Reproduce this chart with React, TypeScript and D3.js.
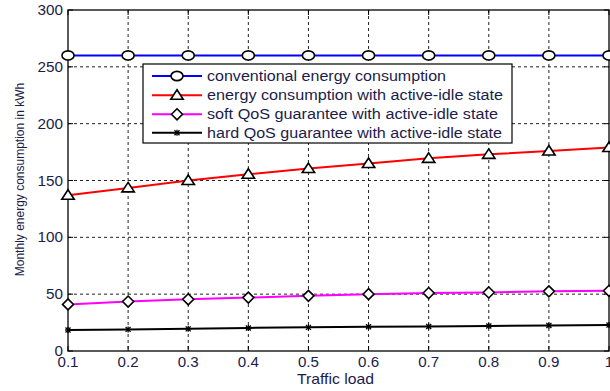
import React from "react";
import * as d3 from "d3";

const trafficLoad = [0.1, 0.2, 0.3, 0.4, 0.5, 0.6, 0.7, 0.8, 0.9, 1.0];
const conventional = [260, 260, 260, 260, 260, 260, 260, 260, 260, 260];
const activeIdle = [137, 143.5, 150, 155.5, 160.5, 165, 169.5, 173, 176, 179];
const softQoS = [41, 43.5, 45.5, 47, 48.5, 50, 51, 51.5, 52.5, 53];
const hardQoS = [18.5, 19, 19.5, 20.3, 20.8, 21.3, 21.6, 22, 22.4, 22.8];
const xTicks = [0.1, 0.2, 0.3, 0.4, 0.5, 0.6, 0.7, 0.8, 0.9, 1];
const yTicks = [0, 50, 100, 150, 200, 250, 300];
const seriesNames = [
  "conventional energy consumption",
  "energy consumption with active-idle state",
  "soft QoS guarantee with active-idle state",
  "hard QoS guarantee with active-idle state",
];
const seriesColors = ["#0000ff", "#ff0000", "#ff00ff", "#000000"];
const seriesMarkers = ["circle", "triangle", "diamond", "star"];

const W = 610, H = 391;
const L = 68, R = 609, T = 10, B = 351;
const FONT = "'Liberation Sans', Arial, sans-serif";
const TXT = "#1c1c4a";

function labelWidth(s: string) {
  let w = 0;
  for (const c of s) w += c === "." ? 4 : 8.5;
  return w;
}

function Marker({ kind, x, y }: { kind: string; x: number; y: number }) {
  if (kind === "circle")
    return <ellipse cx={x} cy={y} rx={6} ry={4.6} fill="#fff" stroke="#000" strokeWidth={1.6} />;
  if (kind === "triangle")
    return (
      <path
        d={`M${x},${y - 5.5} L${x + 6.2},${y + 4} L${x - 6.2},${y + 4} Z`}
        fill="#fff"
        stroke="#000"
        strokeWidth={1.6}
      />
    );
  if (kind === "diamond")
    return (
      <path
        d={`M${x},${y - 5.5} L${x + 5.5},${y} L${x},${y + 5.5} L${x - 5.5},${y} Z`}
        fill="#fff"
        stroke="#000"
        strokeWidth={1.6}
      />
    );
  return (
    <g stroke="#000" strokeWidth={1.3}>
      <line x1={x - 2.5} y1={y - 2.5} x2={x + 2.5} y2={y + 2.5} />
      <line x1={x - 2.5} y1={y + 2.5} x2={x + 2.5} y2={y - 2.5} />
      <line x1={x} y1={y - 3} x2={x} y2={y + 3} />
      <line x1={x - 3} y1={y} x2={x + 3} y2={y} />
    </g>
  );
}

export default function App() {
  const x = d3.scaleLinear().domain([0.1, 1]).range([L, R]);
  const y = d3.scaleLinear().domain([0, 300]).range([B, T]);
  const allSeries = [conventional, activeIdle, softQoS, hardQoS];
  const line = d3
    .line<number>()
    .x((_, i) => x(trafficLoad[i]))
    .y((d) => y(d));

  const legX = 143, legY = 64, legW = 369, legH = 79;
  const rowY = [76, 95.3, 114.3, 132.7];
  const legWidths = [239, 296, 291, 295];

  return (
    <svg
      width={W}
      height={H}
      style={{ position: "absolute", left: 0, top: 0, background: "#fff" }}
      fontFamily={FONT}
    >
      <rect x={0} y={0} width={W} height={H} fill="#fff" />
      {/* grid */}
      <g stroke="#222" strokeWidth={1} strokeDasharray="3,3">
        {xTicks.slice(1, -1).map((t) => (
          <line key={"gx" + t} x1={x(t)} x2={x(t)} y1={T} y2={B} />
        ))}
        {yTicks.slice(1, -1).map((t) => (
          <line key={"gy" + t} x1={L} x2={R} y1={y(t)} y2={y(t)} />
        ))}
      </g>
      {/* ticks */}
      <g stroke="#000" strokeWidth={1}>
        {xTicks.map((t) => (
          <g key={"tx" + t}>
            <line x1={x(t)} x2={x(t)} y1={B} y2={B - 5} />
            <line x1={x(t)} x2={x(t)} y1={T} y2={T + 5} />
          </g>
        ))}
        {yTicks.map((t) => (
          <g key={"ty" + t}>
            <line x1={L} x2={L + 5} y1={y(t)} y2={y(t)} />
            <line x1={R} x2={R - 5} y1={y(t)} y2={y(t)} />
          </g>
        ))}
      </g>
      {/* box */}
      <rect x={L} y={T} width={R - L} height={B - T} fill="none" stroke="#000" strokeWidth={1.3} />
      {/* tick labels */}
      <g fill={TXT} fontSize={14}>
        {xTicks.map((t) => (
          <text
            key={"lx" + t}
            x={x(t)}
            y={B + 16}
            textAnchor="middle"
            textLength={labelWidth(String(t))}
            lengthAdjust="spacingAndGlyphs"
          >
            {String(t)}
          </text>
        ))}
        {yTicks.map((t) => (
          <text
            key={"ly" + t}
            x={L - 5}
            y={y(t) + 5}
            textAnchor="end"
            textLength={labelWidth(String(t))}
            lengthAdjust="spacingAndGlyphs"
          >
            {String(t)}
          </text>
        ))}
      </g>
      <text
        x={335.5}
        y={384}
        textAnchor="middle"
        fontSize={14.5}
        fill={TXT}
        textLength={77}
        lengthAdjust="spacingAndGlyphs"
      >
        Traffic load
      </text>
      <text
        transform={`translate(24,${(T + B) / 2 - 1}) rotate(-90)`}
        textAnchor="middle"
        fontSize={12}
        fill={TXT}
      >
        Monthly energy consumption in kWh
      </text>
      {/* series */}
      {allSeries.map((s, si) => (
        <g key={"s" + si}>
          <path d={line(s) || ""} fill="none" stroke={seriesColors[si]} strokeWidth={2} />
          {s.map((v, i) => (
            <Marker key={i} kind={seriesMarkers[si]} x={x(trafficLoad[i])} y={y(v)} />
          ))}
        </g>
      ))}
      {/* legend */}
      <rect x={legX} y={legY} width={legW} height={legH} fill="#fff" stroke="#000" strokeWidth={1.2} />
      {seriesNames.map((n, i) => (
        <g key={"leg" + i}>
          <line x1={152} x2={202} y1={rowY[i]} y2={rowY[i]} stroke={seriesColors[i]} strokeWidth={2} />
          <Marker kind={seriesMarkers[i]} x={177} y={rowY[i]} />
          <text
            x={207}
            y={rowY[i] + 5}
            fontSize={14}
            fill={TXT}
            textLength={legWidths[i]}
            lengthAdjust="spacingAndGlyphs"
          >
            {n}
          </text>
        </g>
      ))}
    </svg>
  );
}
